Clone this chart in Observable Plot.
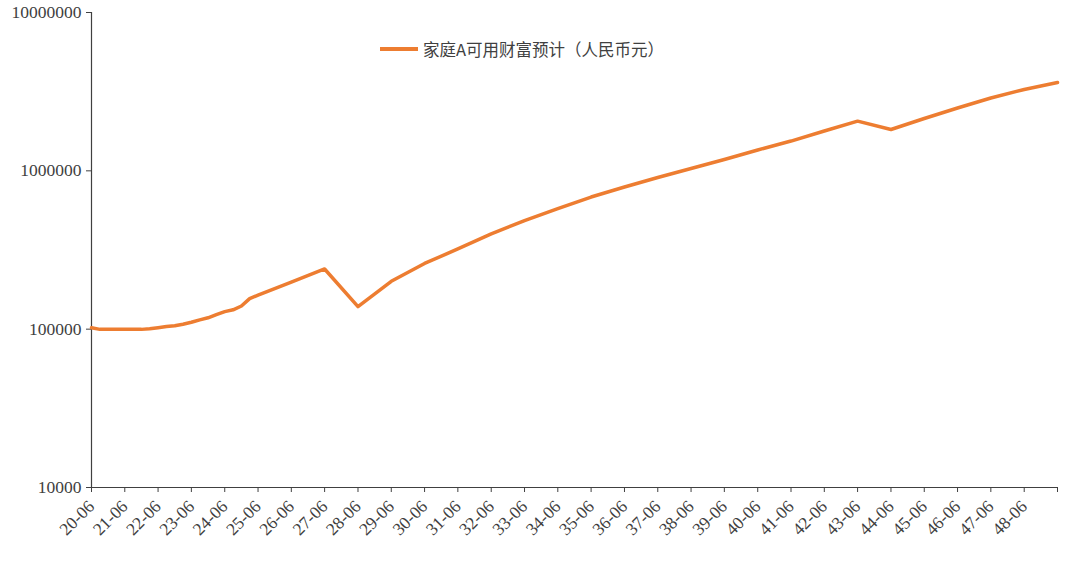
<!DOCTYPE html>
<html>
<head>
<meta charset="utf-8">
<script src="https://cdn.jsdelivr.net/npm/d3@7"></script>
<script src="https://cdn.jsdelivr.net/npm/@observablehq/plot@0.6"></script>
<style>
  html, body { margin: 0; padding: 0; background: #fff; }
  #wrap { position: relative; width: 1080px; height: 562px; }
  #legend { position: absolute; left: 380px; top: 37px; display: flex; align-items: center;
    font-family: "Noto Sans CJK SC", sans-serif; font-size: 16.5px; color: #404040; white-space: nowrap; }
  #legend .sw { width: 38px; height: 3.5px; background: #ED7D31; margin-right: 5px; }
</style>
</head>
<body>
<div id="wrap"><div id="legend"><span class="sw"></span><span id="legtext"></span></div></div>
<script>
const seriesName = "家庭A可用财富预计（人民币元）";
const dates = [
  "2020-06","2020-09","2020-12","2021-03","2021-06","2021-09","2021-12","2022-03",
  "2022-06","2022-09","2022-12","2023-03","2023-06","2023-09","2023-12","2024-03",
  "2024-06","2024-09","2024-12","2025-03","2025-06",
  "2026-06","2027-06","2028-06","2029-06","2030-06","2031-06","2032-06","2033-06",
  "2034-06","2035-06","2036-06","2037-06","2038-06","2039-06","2040-06","2041-06",
  "2042-06","2043-06","2044-06","2045-06","2046-06","2047-06","2048-06","2049-06"
];
const wealth = [
  102000, 99700, 99700, 99700, 99700, 99700, 99700, 100500,
  102000, 103800, 105000, 107500, 110500, 114500, 118000, 123500,
  129000, 132500, 140000, 156000, 164000,
  198000, 240000, 138700, 200500, 260000, 321000, 400000, 485000,
  578000, 683000, 790000, 907000, 1034000, 1179000, 1354000, 1542000,
  1785000, 2059000, 1824000, 2141000, 2494000, 2885000, 3265000, 3616000
];
const xTicks = [
  "2020-06","2021-06","2022-06","2023-06","2024-06","2025-06","2026-06","2027-06",
  "2028-06","2029-06","2030-06","2031-06","2032-06","2033-06","2034-06","2035-06",
  "2036-06","2037-06","2038-06","2039-06","2040-06","2041-06","2042-06","2043-06",
  "2044-06","2045-06","2046-06","2047-06","2048-06","2049-06"
];
const xTickLabels = [
  "20-06","21-06","22-06","23-06","24-06","25-06","26-06","27-06",
  "28-06","29-06","30-06","31-06","32-06","33-06","34-06","35-06",
  "36-06","37-06","38-06","39-06","40-06","41-06","42-06","43-06",
  "44-06","45-06","46-06","47-06","48-06",""
];
const yTicks = [10000, 100000, 1000000, 10000000];

document.getElementById("legtext").textContent = seriesName;

const parse = d3.utcParse("%Y-%m");
const data = dates.map((d, i) => ({date: parse(d), value: wealth[i]}));
const tickDates = xTicks.map(parse);
const labelMap = new Map(tickDates.map((d, i) => [+d, xTickLabels[i]]));
const axisColor = "#404040";

const chart = Plot.plot({
  width: 1080,
  height: 562,
  marginLeft: 91,
  marginRight: 23,
  marginTop: 12,
  marginBottom: 75,
  style: {fontFamily: "'Liberation Serif', 'DejaVu Serif', serif", fontSize: "16px", color: axisColor, background: "white"},
  x: {type: "utc", domain: [tickDates[0], tickDates[tickDates.length - 1]]},
  y: {type: "log", domain: [yTicks[0], yTicks[yTicks.length - 1]]},
  marks: [
    Plot.axisY({ticks: yTicks, tickFormat: d => String(d), tickSize: 5, tickPadding: 5, label: null, fontSize: 17.5, stroke: axisColor}),
    Plot.axisX({ticks: tickDates, tickFormat: d => labelMap.get(+d) ?? "", tickRotate: -45, tickSize: 5, tickPadding: 11, label: null, fontSize: 17.5, stroke: axisColor}),
    Plot.ruleX([tickDates[0]], {stroke: axisColor, strokeWidth: 1.2}),
    Plot.ruleY([yTicks[0]], {stroke: axisColor, strokeWidth: 1.2}),
    Plot.line(data, {x: "date", y: "value", stroke: "#ED7D31", strokeWidth: 3.5, strokeLinejoin: "round", strokeLinecap: "round"})
  ]
});
document.getElementById("wrap").prepend(chart);
</script>
</body>
</html>
